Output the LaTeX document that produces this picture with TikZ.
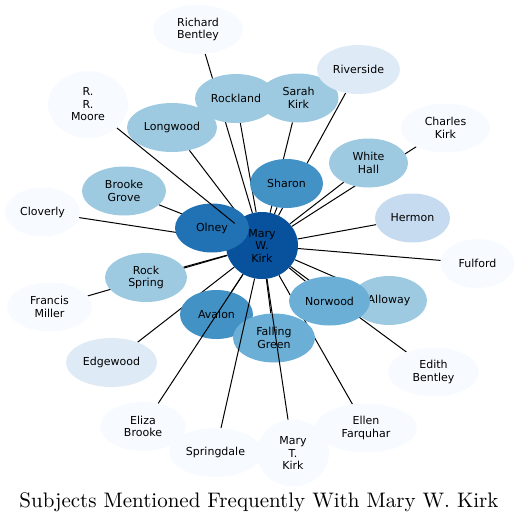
\documentclass[tikz,border=0pt]{standalone}
\usepackage{fontspec}
\usepackage{tikz}
\usetikzlibrary{shapes.geometric}
\newfontfamily\bubblefont{DejaVu Sans}
\definecolor{blues0}{RGB}{247,251,255}
\definecolor{blues1}{RGB}{222,235,247}
\definecolor{blues2}{RGB}{198,219,239}
\definecolor{blues3}{RGB}{158,202,225}
\definecolor{blues4}{RGB}{107,174,214}
\definecolor{blues5}{RGB}{66,146,198}
\definecolor{blues6}{RGB}{33,113,181}
\definecolor{blues7}{RGB}{8,81,156}
\pgfdeclarelayer{bg}
\pgfsetlayers{bg,main}

\begin{document}
\begin{tikzpicture}[
    x=1pt, y=-1pt,
    bubble/.style={ellipse, inner sep=0pt, minimum height=49pt, align=center, font=\bubblefont\fontsize{11}{12.5}\selectfont},
    tall/.style={minimum height=67pt},
    edge/.style={draw=black, line width=1pt}
]
\useasboundingbox (0,0) rectangle (518,523);

% Center
\node[bubble, tall, fill=blues7, minimum width=72pt] (mary) at (262,245.5) {};

% Inner ring
\node[bubble, fill=blues6, minimum width=74pt] (olney) at (212,228) {Olney};
\node[bubble, align=center, font=\bubblefont\fontsize{11}{12.5}\selectfont] (marytext) at (mary.center) {Mary\\W.\\Kirk};
\node[bubble, fill=blues5, minimum width=73pt] (sharon) at (286.5,183.5) {Sharon};
\node[bubble, fill=blues5, minimum width=73pt] (avalon) at (216.5,314.5) {Avalon};
\node[bubble, fill=blues4, minimum width=82pt] (falling) at (274,338) {Falling\\Green};
\node[bubble, fill=blues3, minimum width=76pt] (alloway) at (389,300.5) {Alloway};
\node[bubble, fill=blues4, minimum width=81pt] (norwood) at (329.5,301) {Norwood};

% Middle ring
\node[bubble, fill=blues3, minimum width=80pt] (sarah) at (298.5,98) {Sarah\\Kirk};
\node[bubble, fill=blues3, minimum width=82pt] (rockland) at (236,98.5) {Rockland};
\node[bubble, fill=blues3, minimum width=90pt] (longwood) at (172,127.5) {Longwood};
\node[bubble, fill=blues3, minimum width=84pt] (brooke) at (124,191) {Brooke\\Grove};
\node[bubble, fill=blues3, minimum width=82pt] (rockspring) at (146,277.5) {Rock\\Spring};
\node[bubble, fill=blues3, minimum width=79pt] (whitehall) at (368.5,163) {White\\Hall};
\node[bubble, fill=blues2, minimum width=75pt] (hermon) at (412.5,218) {Hermon};
\node[bubble, fill=blues1, minimum width=83pt] (riverside) at (358.5,69.5) {Riverside};
\node[bubble, fill=blues1, minimum width=91pt] (edgewood) at (111.5,362.5) {Edgewood};

% Outer ring
\node[bubble, fill=blues0, minimum width=90pt] (richard) at (198,29.5) {Richard\\Bentley};
\node[bubble, tall, fill=blues0, minimum width=80pt] (moore) at (88,104.5) {R.\\R.\\Moore};
\node[bubble, fill=blues0, minimum width=89pt] (charles) at (445.5,128) {Charles\\Kirk};
\node[bubble, fill=blues0, minimum width=75pt] (cloverly) at (42.5,212) {Cloverly};
\node[bubble, fill=blues0, minimum width=74pt] (fulford) at (477.5,263.5) {Fulford};
\node[bubble, fill=blues0, minimum width=85pt] (francis) at (49.5,307) {Francis\\Miller};
\node[bubble, fill=blues0, minimum width=91pt] (edith) at (433.5,372) {Edith\\Bentley};
\node[bubble, fill=blues0, minimum width=86pt] (eliza) at (143,426.5) {Eliza\\Brooke};
\node[bubble, fill=blues0, minimum width=93pt] (springdale) at (215.5,452.5) {Springdale};
\node[bubble, fill=blues0, minimum width=102pt] (ellen) at (366,428) {Ellen\\Farquhar};
\node[bubble, tall, fill=blues0, minimum width=72pt] (marytk) at (293,453) {Mary\\T.\\Kirk};

% Edges behind the bubbles
\begin{pgfonlayer}{bg}
\draw[edge] (mary) -- (olney);
\draw[edge] (mary) -- (sharon);
\draw[edge] (mary) -- (avalon);
\draw[edge] (mary) -- (falling);
\draw[edge] (mary) -- (norwood);
\draw[edge] (mary) -- (alloway);
\draw[edge] (mary) -- (rockland);
\draw[edge] (mary) -- (sarah);
\draw[edge] (mary) -- (longwood);
\draw[edge] (mary) -- (brooke);
\draw[edge] (mary) -- (rockspring);
\draw[edge] (mary) -- (whitehall);
\draw[edge] (mary) -- (hermon);
\draw[edge] (mary) -- (riverside);
\draw[edge] (mary) -- (edgewood);
\draw[edge] (mary) -- (richard);
\draw[edge] (mary) -- (charles);
\draw[edge] (mary) -- (cloverly);
\draw[edge] (mary) -- (fulford);
\draw[edge] (mary) -- (francis);
\draw[edge] (mary) -- (edith);
\draw[edge] (mary) -- (ellen);
\end{pgfonlayer}

% Edges over the bubbles
\draw[edge] (mary) -- (moore);
\draw[edge] (mary) -- (eliza);
\draw[edge] (mary) -- (springdale);
\draw[edge] (mary) -- (marytk);

% Title
\node[anchor=base, inner sep=0pt] (title) at (259,507) {\scalebox{2.1}{Subjects Mentioned Frequently With Mary W. Kirk}};

\end{tikzpicture}
\end{document}
